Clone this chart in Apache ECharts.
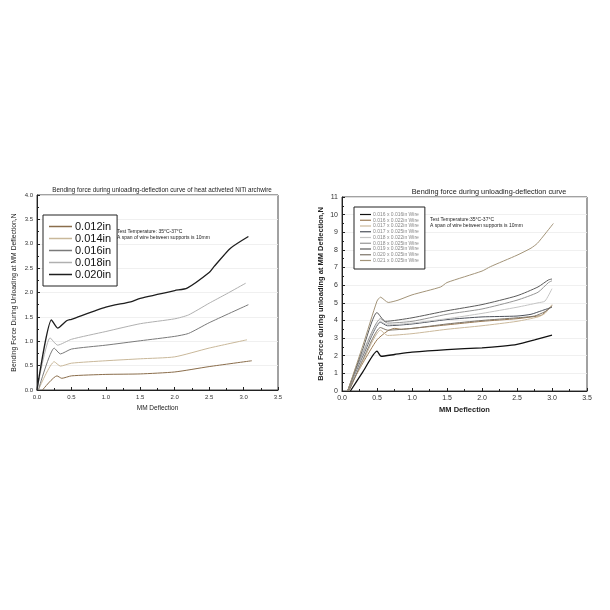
<!DOCTYPE html>
<html><head><meta charset="utf-8">
<script src="https://cdn.jsdelivr.net/npm/echarts@6/dist/echarts.min.js"></script>
<style>html,body{margin:0;padding:0;background:#fff}#c{width:610px;height:610px}</style>
</head><body><div id="c"></div>
<script>
// ---------- Left chart data ----------
const leftNames = ['0.012in','0.014in','0.016in','0.018in','0.020in'];
const left012 = [[0.08,0],[0.29,0.29],[0.36,0.24],[0.5,0.29],[1.0,0.32],[1.5,0.33],[2.0,0.37],[2.5,0.48],[3.12,0.60]];
const left014 = [[0.02,0],[0.25,0.58],[0.34,0.49],[0.5,0.55],[1.0,0.60],[1.5,0.64],[2.0,0.68],[2.5,0.86],[3.05,1.03]];
const left016 = [[0.02,0],[0.25,0.86],[0.34,0.74],[0.5,0.84],[1.0,0.92],[1.5,1.01],[2.0,1.10],[2.2,1.16],[2.5,1.38],[3.07,1.75]];
const left018 = [[0.0,0],[0.19,1.07],[0.30,0.92],[0.5,1.04],[1.0,1.20],[1.5,1.36],[2.0,1.46],[2.2,1.54],[2.5,1.78],[2.75,1.97],[3.03,2.19]];
const left020 = [[0.0,0],[0.21,1.44],[0.30,1.27],[0.43,1.42],[0.5,1.45],[1.0,1.70],[1.36,1.81],[1.5,1.88],[2.0,2.04],[2.18,2.09],[2.5,2.41],[2.57,2.53],[2.81,2.91],[3.07,3.15]];
const leftColors = ['#8a6d4b','#c9b89a','#7a7a7a','#b0b0b0','#1e1e1e'];

// ---------- Right chart data ----------
const rightNames = ['0.016 x 0.016in Wire','0.016 x 0.022in Wire','0.017 x 0.022in Wire','0.017 x 0.025in Wire','0.018 x 0.022in Wire','0.018 x 0.025in Wire','0.019 x 0.025in Wire','0.020 x 0.025in Wire','0.021 x 0.025in Wire'];
const r016x016 = [[0.12,0],[0.3,1.1],[0.5,2.26],[0.56,1.97],[0.75,2.07],[1.0,2.2],[1.5,2.35],[2.0,2.45],[2.3,2.55],[2.5,2.65],[2.75,2.9],[3.0,3.17]];
const r016x022 = [[0.08,0],[0.3,1.6],[0.5,2.9],[0.65,3.4],[0.75,3.55],[0.85,3.5],[1.0,3.55],[1.5,3.75],[2.0,3.95],[2.5,4.1],[2.7,4.2],[2.85,4.3],[3.0,4.85]];
const r017x022 = [[0.1,0],[0.3,1.7],[0.55,3.45],[0.65,3.15],[1.0,3.25],[1.5,3.5],[2.0,3.7],[2.5,3.95],[2.8,4.2],[2.9,4.4],[3.0,4.9]];
const r017x025 = [[0.08,0],[0.3,2.0],[0.55,3.9],[0.65,3.7],[1.0,3.8],[1.5,4.05],[2.0,4.2],[2.5,4.25],[2.7,4.35],[2.85,4.55],[3.0,4.75]];
const r018x022 = [[0.08,0],[0.3,2.1],[0.55,3.95],[0.65,3.75],[1.0,3.85],[1.5,4.1],[2.0,4.4],[2.5,4.75],[2.8,5.0],[2.9,5.1],[3.0,5.8]];
const r018x025 = [[0.08,0],[0.3,2.2],[0.55,4.1],[0.65,3.85],[1.0,3.95],[1.5,4.35],[2.0,4.65],[2.5,5.15],[2.8,5.6],[2.95,6.15],[3.0,6.25]];
const r019x025 = [[0.08,0],[0.3,2.4],[0.5,4.45],[0.62,3.95],[1.0,4.15],[1.5,4.55],[2.0,4.9],[2.5,5.4],[2.8,5.9],[2.95,6.3],[3.0,6.35]];
const r020x025 = [[0.1,0],[0.3,1.8],[0.55,3.6],[0.65,3.45],[1.0,3.55],[1.5,3.8],[2.0,4.0],[2.5,4.15],[2.75,4.25],[2.9,4.5],[3.0,4.8]];
const r021x025 = [[0.08,0],[0.3,2.6],[0.5,5.1],[0.55,5.32],[0.66,5.02],[0.8,5.15],[1.0,5.45],[1.41,5.9],[1.5,6.15],[2.0,6.8],[2.12,7.05],[2.5,7.7],[2.7,8.1],[2.79,8.37],[2.9,8.9],[3.02,9.5]];
const rightColors = ['#111111','#9b7b55','#cbb99c','#4b505a','#c4c4c4','#959595','#5a5a5a','#7d7468','#a39479'];

const leftSeriesData = [left012,left014,left016,left018,left020];
const rightSeriesData = [r016x016,r016x022,r017x022,r017x025,r018x022,r018x025,r019x025,r020x025,r021x025];

const chart = echarts.init(document.getElementById('c'));
const fontL = 'Liberation Sans, Arial, sans-serif';

function xAxis(gi, fs){
  return {type:'value', gridIndex:gi, min:0, max:3.5, interval:0.5,
    name:'MM Deflection', nameLocation:'middle', nameGap:15,
    nameTextStyle:{fontSize:fs+0.5, color:'#222', fontFamily:fontL, fontWeight: gi===1?'bold':'normal'},
    axisLine:{show:true, lineStyle:{color:'#222', width:1}},
    axisTick:{show:true, inside:true, length:3, lineStyle:{color:'#222'}},
    minorTick:{show:true, splitNumber:2, length:2, lineStyle:{color:'#222'}},
    splitLine:{show:false},
    axisLabel:{fontSize:fs, color:'#333', margin:4, fontFamily:fontL, formatter:v=>v.toFixed(1)}};
}

const series = [];
leftSeriesData.forEach((d,i)=>series.push({type:'line', name:leftNames[i], xAxisIndex:0, yAxisIndex:0, data:d,
  showSymbol:false, smooth:0.2, lineStyle:{color:leftColors[i], width: i===4?1.3:1}, itemStyle:{color:leftColors[i]}}));
rightSeriesData.forEach((d,i)=>series.push({type:'line', name:rightNames[i], xAxisIndex:1, yAxisIndex:1, data:d,
  showSymbol:false, smooth:0.2, lineStyle:{color:rightColors[i], width: i===0?1.3:1}, itemStyle:{color:rightColors[i]}}));

chart.setOption({
  animation:false,
  backgroundColor:'#fff',
  title:[
    {text:'Bending force during unloading-deflection curve of heat activeted NiTi archwire', left:157, top:182, textAlign:'center',
     textStyle:{fontSize:6.3, fontWeight:'normal', color:'#222', fontFamily:fontL}},
    {text:'Bending force during unloading-deflection curve', left:484, top:183, textAlign:'center',
     textStyle:{fontSize:7.3, fontWeight:'normal', color:'#222', fontFamily:fontL}}
  ],
  grid:[
    {left:37, top:195, width:241, height:195, show:true, borderColor:'#444', borderWidth:1, backgroundColor:'#fff'},
    {left:342, top:197, width:245, height:194, show:true, borderColor:'#444', borderWidth:1, backgroundColor:'#fff'}
  ],
  xAxis:[xAxis(0,6), xAxis(1,7)],
  yAxis:[
    {type:'value', gridIndex:0, min:0, max:4, interval:0.5,
     name:'Bending Force During Unloading at MM Deflection,N', nameLocation:'middle', nameGap:19,
     nameTextStyle:{fontSize:6.8, color:'#222', fontFamily:fontL},
     axisLine:{show:true, lineStyle:{color:'#222'}},
     axisTick:{show:true, inside:true, length:3, lineStyle:{color:'#222'}},
     minorTick:{show:true, splitNumber:2, length:2, lineStyle:{color:'#222'}},
     splitLine:{show:true, lineStyle:{color:'#ececec', width:0.8}},
     axisLabel:{fontSize:6, color:'#333', margin:4, fontFamily:fontL, formatter:v=>v.toFixed(1)}},
    {type:'value', gridIndex:1, min:0, max:11, interval:1,
     name:'Bend Force during unloading at MM Deflection,N', nameLocation:'middle', nameGap:17,
     nameTextStyle:{fontSize:7.5, color:'#222', fontWeight:'bold', fontFamily:fontL},
     axisLine:{show:true, lineStyle:{color:'#222'}},
     axisTick:{show:true, inside:true, length:3, lineStyle:{color:'#222'}},
     minorTick:{show:true, splitNumber:2, length:2, lineStyle:{color:'#222'}},
     splitLine:{show:true, lineStyle:{color:'#ececec', width:0.8}},
     axisLabel:{fontSize:7, color:'#333', margin:4, fontFamily:fontL}}
  ],
  legend:[
    {data:leftNames, orient:'vertical', left:43, top:215, padding:[6,6,6,6], itemGap:1,
     itemWidth:23, itemHeight:1.5, icon:'rect', borderColor:'#222', borderWidth:1, backgroundColor:'#fff',
     textStyle:{fontSize:11, color:'#111', fontFamily:fontL, padding:[0,0,0,-2]}},
    {data:rightNames, orient:'vertical', left:354, top:207, padding:[5,6,6,6], itemGap:0.75,
     itemWidth:11, itemHeight:1.2, icon:'rect', borderColor:'#222', borderWidth:1, backgroundColor:'#fff',
     textStyle:{fontSize:5, color:'#888', fontFamily:fontL, padding:[0,0,0,-3]}}
  ],
  graphic:[
    {type:'text', left:117, top:229, style:{text:'Test Temperature: 35°C-37°C', fontSize:5, fill:'#222', fontFamily:fontL}},
    {type:'text', left:117, top:235.5, style:{text:'A span of wire between supports is 10mm', fontSize:5, fill:'#222', fontFamily:fontL}},
    {type:'text', left:430, top:217.5, style:{text:'Test Temperature:35°C-37°C', fontSize:5, fill:'#222', fontFamily:fontL}},
    {type:'text', left:430, top:223, style:{text:'A span of wire between supports is 10mm', fontSize:5, fill:'#222', fontFamily:fontL}}
  ],
  series: series
});
</script>
</body></html>
